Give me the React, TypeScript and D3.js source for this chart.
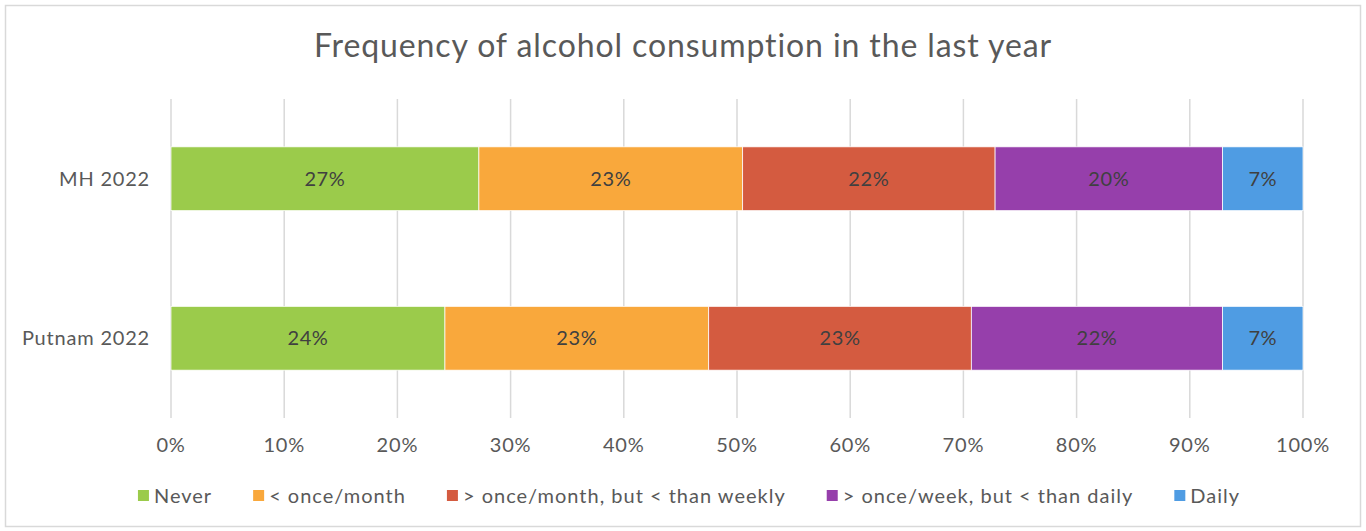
import React, { useEffect, useRef } from "react";
import * as d3 from "d3";

const categories = ["MH 2022", "Putnam 2022"];
const seriesNames = [
  "Never",
  "< once/month",
  "> once/month, but < than weekly",
  "> once/week, but < than daily",
  "Daily",
];
const seriesColors = ["#9BCB4B", "#F9A83C", "#D45B40", "#963FAB", "#4F9CE3"];
const never = [0.272, 0.242];
const lessMonthly = [0.233, 0.233];
const monthlyWeekly = [0.223, 0.232];
const weeklyDaily = [0.201, 0.222];
const daily = [0.071, 0.071];
const tickValues = [0, 0.1, 0.2, 0.3, 0.4, 0.5, 0.6, 0.7, 0.8, 0.9, 1.0];
const title = "Frequency of alcohol consumption in the last year";

const W = 1366;
const H = 531;
const FONT = "Lato, 'Open Sans', sans-serif";

export default function App() {
  const ref = useRef<SVGSVGElement | null>(null);

  useEffect(() => {
    const svg = d3.select(ref.current);
    svg.selectAll("*").remove();

    const series = [never, lessMonthly, monthlyWeekly, weeklyDaily, daily];
    const rows = categories.map((c, i) => {
      const r: any = { cat: c };
      seriesNames.forEach((s, j) => (r[s] = series[j][i]));
      return r;
    });
    const stacked = d3.stack<any>().keys(seriesNames)(rows);

    const x = d3.scaleLinear().domain([0, 1]).range([171, 1303]);
    const y = d3
      .scaleBand<string>()
      .domain(categories)
      .range([99, 418])
      .paddingInner(0.6)
      .paddingOuter(0.3);

    // chart border
    svg
      .append("rect")
      .attr("x", 5.5)
      .attr("y", 5.5)
      .attr("width", 1355)
      .attr("height", 521)
      .attr("fill", "#fff")
      .attr("stroke", "#D9D9D9")
      .attr("stroke-width", 1.5);

    // title
    svg
      .append("text")
      .attr("x", 683)
      .attr("y", 57)
      .attr("text-anchor", "middle")
      .attr("font-family", FONT)
      .attr("font-size", 32)
      .attr("fill", "#595959")
      .attr("letter-spacing", 0.9)
      .text(title);

    // gridlines
    svg
      .append("g")
      .selectAll("line")
      .data(tickValues)
      .join("line")
      .attr("x1", (d) => x(d))
      .attr("x2", (d) => x(d))
      .attr("y1", 99)
      .attr("y2", 418)
      .attr("stroke", "#D9D9D9")
      .attr("stroke-width", 1.5);

    // bars
    const g = svg.append("g");
    stacked.forEach((layer, j) => {
      const lg = g.append("g").attr("fill", seriesColors[j]);
      lg.selectAll("rect")
        .data(layer)
        .join("rect")
        .attr("x", (d) => x(d[0]))
        .attr("y", (d) => y(d.data.cat)!)
        .attr("width", (d) => x(d[1]) - x(d[0]))
        .attr("height", y.bandwidth())
        .attr("stroke", "#fff")
        .attr("stroke-width", 0.75);
      lg.selectAll("text")
        .data(layer)
        .join("text")
        .attr("x", (d) => (x(d[0]) + x(d[1])) / 2)
        .attr("y", (d) => y(d.data.cat)! + y.bandwidth() / 2)
        .attr("dy", "0.35em")
        .attr("text-anchor", "middle")
        .attr("font-family", FONT)
        .attr("font-size", 20)
        .attr("letter-spacing", 0.6)
        .attr("fill", "#404040")
        .text((d) => d3.format(".0%")(d[1] - d[0]));
    });

    // category labels
    svg
      .append("g")
      .selectAll("text")
      .data(categories)
      .join("text")
      .attr("x", 150)
      .attr("y", (d) => y(d)! + y.bandwidth() / 2)
      .attr("dy", "0.35em")
      .attr("text-anchor", "end")
      .attr("font-family", FONT)
      .attr("font-size", 20)
      .attr("letter-spacing", 0.8)
      .attr("fill", "#595959")
      .text((d) => d);

    // x tick labels
    svg
      .append("g")
      .selectAll("text")
      .data(tickValues)
      .join("text")
      .attr("x", (d) => x(d))
      .attr("y", 445)
      .attr("dy", "0.35em")
      .attr("text-anchor", "middle")
      .attr("font-family", FONT)
      .attr("font-size", 20)
      .attr("letter-spacing", 0.8)
      .attr("fill", "#595959")
      .text((d) => d3.format(".0%")(d));

    // legend
    const lg = svg.append("g");
    const items = lg.selectAll("g").data(seriesNames).join("g");
    items
      .append("rect")
      .attr("width", 11)
      .attr("height", 11)
      .attr("y", 490)
      .attr("fill", (_, i) => seriesColors[i]);
    items
      .append("text")
      .attr("x", 16)
      .attr("y", 495.5)
      .attr("dy", "0.35em")
      .attr("font-family", FONT)
      .attr("font-size", 20)
      .attr("letter-spacing", 1.0)
      .attr("fill", "#595959")
      .text((d) => d);
    const widths: number[] = [];
    items.each(function () {
      const t = d3.select(this).select("text").node() as SVGTextElement;
      widths.push(16 + t.getComputedTextLength());
    });
    const gap = 41;
    const total = d3.sum(widths) + gap * (widths.length - 1);
    let cx = 689 - total / 2;
    items.each(function (_, i) {
      d3.select(this).attr("transform", `translate(${cx},0)`);
      cx += widths[i] + gap;
    });
  }, []);

  return (
    <svg
      ref={ref}
      width={W}
      height={H}
      style={{ display: "block", position: "absolute", left: 0, top: 0 }}
    />
  );
}
